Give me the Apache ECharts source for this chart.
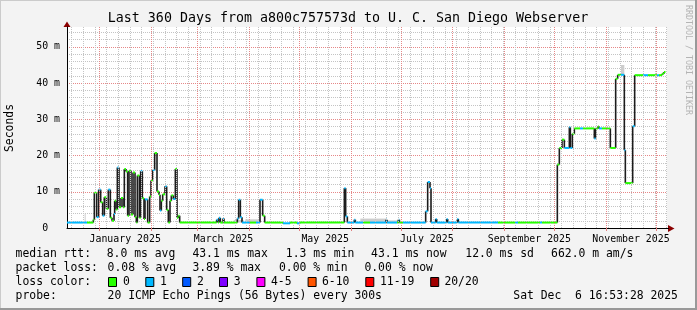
<!DOCTYPE html>
<html><head><meta charset="utf-8">
<script src="https://cdn.jsdelivr.net/npm/echarts@6.0.0/dist/echarts.min.js"></script>
<style>html,body{margin:0;padding:0;background:#f3f3f3}#c{width:697px;height:310px}</style>
</head><body><div id="c"></div>
<script>
// ---- data (x = days since start of the 360-day window, y = median RTT in ms) ----
const segStart = [
 0.0,12.0,15.8,16.4,17.8,19.0,20.2,21.4,22.4,23.6,
 24.8,26.0,27.0,28.2,28.6,29.4,30.2,31.2,32.4,33.6,
 34.4,35.4,36.4,37.2,38.4,39.6,40.8,41.6,42.2,43.4,
 44.2,45.2,46.2,46.8,48.4,49.6,50.4,51.4,52.6,54.0,
 55.2,55.8,56.6,57.4,58.8,59.8,60.8,61.8,62.6,63.8,
 65.0,66.0,66.8,67.6,89.8,90.6,91.2,92.0,93.6,94.2,
 102.2,103.0,104.0,105.0,109.8,113.4,115.8,117.4,118.6,129.6,
 133.8,138.0,139.8,166.4,167.2,168.2,172.4,173.0,177.6,181.8,
 191.4,192.0,198.0,198.8,199.4,201.6,215.2,216.4,217.8,218.4,
 221.2,221.8,227.8,228.4,234.2,234.8,258.6,268.8,270.6,283.8,
 285.0,294.2,295.4,297.0,298.4,301.4,302.0,303.2,304.4,307.8,
 309.6,316.4,317.2,318.6,319.2,321.0,326.0,329.2,330.4,332.4,
 334.4,335.0,339.4,340.6,345.6,348.6,354.0,355.2,357.0,358.2
];
const medianMs = [
 1.5,1.5,2.3,9.7,3.0,10.6,7.1,3.4,8.5,5.3,
 10.6,2.8,2.0,3.9,7.5,5.1,16.7,5.7,8.3,5.7,
 16.3,15.6,3.4,15.8,3.7,15.3,3.0,1.5,14.5,2.8,
 15.7,8.2,2.5,7.9,1.5,8.7,13.1,16.0,20.7,10.1,
 9.2,4.8,7.5,9.3,11.5,5.0,1.5,7.5,9.0,8.0,
 16.3,2.8,3.4,1.5,2.3,1.5,2.8,1.5,2.6,1.5,
 2.6,7.8,3.0,1.5,1.5,1.5,7.8,3.4,1.5,1.3,
 1.5,1.3,1.5,11.0,3.2,1.5,2.3,1.5,1.5,1.5,
 2.3,1.5,1.5,2.3,1.5,1.5,4.6,12.7,11.0,1.5,
 2.5,1.5,2.5,1.5,2.5,1.5,1.5,1.5,1.5,1.5,
 1.5,17.5,22.1,24.4,22.1,27.8,22.1,26.0,27.5,27.5,
 27.5,24.7,27.5,28.0,27.5,27.5,22.1,41.2,42.3,42.3,
 21.5,12.4,28.1,42.2,42.2,42.2,42.2,42.2,42.6,43.1
];
const lossIdx = [
 1,0,0,0,1,1,0,1,0,0,
 1,0,0,1,0,0,1,0,0,0,
 0,0,0,0,0,0,0,0,0,0,
 1,0,0,1,0,0,0,1,0,0,
 0,1,0,0,1,0,0,0,0,1,
 0,0,0,0,1,0,1,0,1,0,
 1,1,1,1,0,1,1,0,0,1,
 0,1,0,1,1,1,1,1,0,1,
 1,1,0,1,0,1,1,1,1,1,
 1,1,1,1,1,1,0,1,0,1,
 0,0,0,0,1,1,1,0,0,1,
 0,1,0,0,1,0,0,0,0,1,
 1,0,1,0,1,0,1,0,0,0
];
const dataEnd = 359.1;
const smokeStart = [10.6, 100.0, 107.0, 176.0, 192.0, 332.4];
const smokeEnd   = [11.2, 106.0, 116.0, 192.0, 200.0, 334.4];
const smokeLow   = [1.5, 1.5, 1.5, 1.5, 1.5, 42.3];
const smokeHigh  = [4.0, 2.2, 2.4, 2.6, 2.1, 45.0];

const monthStarts = [19.4, 50.4, 78.4, 109.4, 139.4, 170.4, 200.4, 231.4, 262.4, 292.4, 323.4, 353.4];
const firstWeekLine = 2.8;
const xLabels = ['January 2025','March 2025','May 2025','July 2025','September 2025','November 2025'];
const xLabelPos = [34.9, 93.9, 154.9, 215.9, 277.4, 338.4];
const yMax = 55.5;

const lossColors = ['#26ff00','#00b8ff','#0059ff','#7e00ff','#ff00ff','#ff5500','#ff0000','#a10000'];
const lossLabels = ['0','1','2','3','4-5','6-10','11-19','20/20'];
const statRtt = ['8.0 ms avg','43.1 ms max','1.3 ms min','43.1 ms now','12.0 ms sd','662.0 m am/s'];
const statLoss = ['0.08 % avg','3.89 % max','0.00 % min','0.00 % now'];
const probeText = '20 ICMP Echo Pings (56 Bytes) every 300s';
const stampText = 'Sat Dec  6 16:53:28 2025';
const titleText = 'Last 360 Days from a800c757573d to U. C. San Diego Webserver';

// ---- build ----
const MONO = '"DejaVu Sans Mono", "Liberation Mono", monospace';
const median = segStart.map((s, i) => [s, i + 1 < segStart.length ? segStart[i + 1] : dataEnd,
  medianMs[i], lossIdx[i], i > 0 ? medianMs[i - 1] : medianMs[i]]);
const smoke = smokeStart.map((s, i) => [s, smokeEnd[i], smokeLow[i], smokeHigh[i]]);
const weekLines = [];
for (let d = firstWeekLine; d < 360; d += 7) weekLines.push(+d.toFixed(2));

const minorColor = '#c4c4c4', majorColor = '#e68888';
const gridMarks = weekLines.map(d => ({xAxis: d, lineStyle: {color: minorColor, type: [1, 1], width: 1}}))
  .concat(monthStarts.map(d => ({xAxis: d, lineStyle: {color: majorColor, type: [1, 1], width: 1}})));

const graphic = [];
function txt(x, y, text, size, extra) {
  graphic.push(Object.assign({type: 'text', x: x, y: y, silent: true,
    style: {text: text, font: size + 'px ' + MONO, fill: '#000', verticalAlign: 'middle', align: 'left'}}, extra || {}));
}
// borders
graphic.push({type: 'rect', shape: {x: 0, y: 0, width: 697, height: 1}, style: {fill: '#cbcbcb'}});
graphic.push({type: 'rect', shape: {x: 0, y: 0, width: 1, height: 310}, style: {fill: '#cbcbcb'}});
graphic.push({type: 'rect', shape: {x: 0, y: 308, width: 697, height: 2}, style: {fill: '#999'}});
graphic.push({type: 'rect', shape: {x: 695, y: 0, width: 2, height: 310}, style: {fill: '#999'}});
// title etc
graphic.push({type: 'text', x: 348, y: 19, style: {text: titleText, font: '13.3px ' + MONO, fill: '#000', align: 'center', verticalAlign: 'middle'}});
graphic.push({type: 'text', x: 10.5, y: 128, rotation: Math.PI / 2, style: {text: 'Seconds', font: '11.4px ' + MONO, fill: '#000', align: 'center', verticalAlign: 'middle'}});
graphic.push({type: 'text', x: 688, y: 60, rotation: -Math.PI / 2, style: {text: 'RRDTOOL / TOBI OETIKER', font: '8.3px ' + MONO, fill: '#b4b4b4', align: 'center', verticalAlign: 'middle'}});
// arrows
graphic.push({type: 'polygon', shape: {points: [[67, 21.5], [63.5, 27], [70.5, 27]]}, style: {fill: '#8b0000'}});
graphic.push({type: 'polygon', shape: {points: [[674.5, 228.5], [668, 225], [668, 232]]}, style: {fill: '#8b0000'}});
graphic.push({type: 'rect', shape: {x: 667, y: 228, width: 2, height: 1}, style: {fill: '#000'}});
// legend rows
const fs = 11.4;
txt(15.6, 254.5, 'median rtt:', fs);
[106.7, 192.4, 285.8, 371.1, 465.3, 551.1].forEach((x, i) => txt(x, 254.5, statRtt[i], fs));
txt(15.6, 268.5, 'packet loss:', fs);
[107.6, 192.4, 279.0, 364.4].forEach((x, i) => txt(x, 268.5, statLoss[i], fs));
txt(15.6, 282.3, 'loss color:', fs);
const boxX = [108, 145.3, 182.2, 219, 256.4, 307.6, 365.3, 430.2];
const labX = [123, 160, 197, 233.8, 271, 322, 380, 444.4];
lossLabels.forEach((l, i) => {
  graphic.push({type: 'rect', shape: {x: boxX[i] + 0.5, y: 277.5, width: 8, height: 9}, style: {fill: lossColors[i], stroke: '#000', lineWidth: 1}});
  txt(labX[i], 282.3, l, fs);
});
txt(15.6, 296.3, 'probe:', fs);
txt(107.6, 296.3, probeText, fs);
txt(513.3, 296.3, stampText, fs);

const option = {
  backgroundColor: '#f3f3f3',
  animation: false,
  grid: {left: 67, top: 27, width: 600, height: 201, show: true, backgroundColor: '#ffffff', borderWidth: 0},
  xAxis: {
    type: 'value', min: 0, max: 360,
    axisLine: {show: true, onZero: false, lineStyle: {color: '#000', width: 1}},
    axisTick: {show: true, customValues: monthStarts, length: 3, lineStyle: {color: '#e08080'}},
    axisLabel: {customValues: xLabelPos, fontFamily: MONO, fontSize: 9.9, color: '#000', margin: 6,
      formatter: v => { const i = xLabelPos.findIndex(p => Math.abs(p - v) < 1e-6); return i >= 0 ? xLabels[i] : ''; }},
    splitLine: {show: false}
  },
  yAxis: [
    {type: 'value', min: 0, max: yMax, interval: 2, axisLine: {show: false}, axisTick: {show: false}, axisLabel: {show: false},
     splitLine: {show: true, showMinLine: false, showMaxLine: false, lineStyle: {color: minorColor, type: [1, 1]}}},
    {type: 'value', min: 0, max: yMax, interval: 10, position: 'left',
     axisLine: {show: true, onZero: false, lineStyle: {color: '#000', width: 1}}, axisTick: {show: false},
     axisLabel: {fontFamily: MONO, fontSize: 9.9, color: '#000', margin: 7,
       formatter: v => (v % 10 !== 0 ? '' : (v === 0 ? '0  ' : v + ' m'))},
     splitLine: {show: true, showMinLine: false, showMaxLine: false, lineStyle: {color: majorColor, type: [1, 1]}}}
  ],
  series: [
    {type: 'line', data: [], z: 1, silent: true,
     markLine: {silent: true, symbol: ['none', 'none'], animation: false, label: {show: false}, data: gridMarks}},
    {type: 'custom', z: 2, clip: true, silent: true, data: smoke, encode: {x: [0, 1], y: [2, 3]},
     renderItem: (p, api) => {
       const a = api.coord([api.value(0), api.value(3)]), b = api.coord([api.value(1), api.value(2)]);
       return {type: 'rect', shape: {x: a[0], y: a[1], width: b[0] - a[0], height: b[1] - a[1]}, style: {fill: '#cdcdcd'}};
     }},
    {type: 'custom', z: 3, clip: true, silent: true, data: median, encode: {x: [0, 1], y: [2, 4]},
     renderItem: (p, api) => {
       const a = api.coord([api.value(0), api.value(4)]), b = api.coord([api.value(0), api.value(2)]);
       return {type: 'line', shape: {x1: a[0], y1: a[1], x2: b[0], y2: b[1]}, style: {stroke: '#1c1c1c', lineWidth: 1.6}};
     }},
    {type: 'custom', z: 4, clip: true, silent: true, data: median, encode: {x: [0, 1], y: 2},
     renderItem: (p, api) => {
       const a = api.coord([api.value(0), api.value(2)]), b = api.coord([api.value(1), api.value(2)]);
       return {type: 'rect', shape: {x: a[0], y: a[1] - 1, width: Math.max(1, b[0] - a[0]), height: 2}, style: {fill: lossColors[api.value(3)]}};
     }}
  ],
  graphic: graphic
};
const chart = echarts.init(document.getElementById('c'), null, {renderer: 'canvas', width: 697, height: 310});
chart.setOption(option);
</script>
</body></html>
